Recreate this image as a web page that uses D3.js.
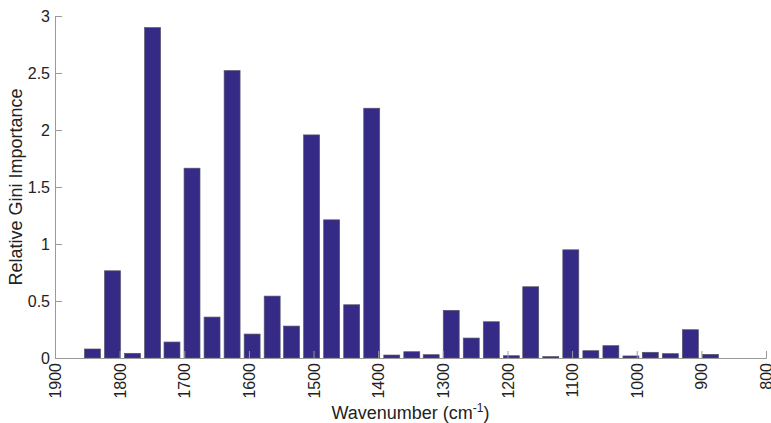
<!DOCTYPE html>
<html>
<head>
<meta charset="utf-8">
<script src="https://cdn.jsdelivr.net/npm/d3@7"></script>
<style>
  body { margin: 0; background: #fff; }
  text { font-family: "Liberation Sans", Arial, Helvetica, sans-serif; fill: #222; }
</style>
</head>
<body>
<svg width="771" height="423"></svg>
<script>
// bin centres (cm^-1) and relative Gini importance
var wavenumbers = [1842, 1811, 1780, 1749, 1719, 1688, 1657, 1626, 1595, 1564, 1534,
  1503, 1472, 1441, 1410, 1379, 1348, 1318, 1287, 1256, 1225, 1194, 1164, 1133,
  1102, 1071, 1040, 1009, 979, 948, 917, 886];
var importance = [0.079, 0.765, 0.041, 2.898, 0.140, 1.665, 0.359, 2.521, 0.210, 0.543, 0.280,
  1.957, 1.212, 0.467, 2.191, 0.026, 0.055, 0.029, 0.418, 0.175, 0.318, 0.020, 0.625, 0.012,
  0.949, 0.064, 0.108, 0.018, 0.050, 0.038, 0.248, 0.032];
var xTicks = [1900, 1800, 1700, 1600, 1500, 1400, 1300, 1200, 1100, 1000, 900, 800];
var yTicks = [0, 0.5, 1, 1.5, 2, 2.5, 3];

var svg = d3.select('svg');
var margin = { top: 16, right: 5, bottom: 65, left: 55 };
var width = 771 - margin.left - margin.right;
var height = 423 - margin.top - margin.bottom;

var g = svg.append('g')
  .attr('transform', 'translate(' + margin.left + ',' + margin.top + ')');

var x = d3.scaleLinear().domain([1900, 800]).range([0, width]);
var y = d3.scaleLinear().domain([0, 3]).range([height, 0]);

var step = Math.abs(wavenumbers[0] - wavenumbers[wavenumbers.length - 1]) / (wavenumbers.length - 1);
var barW = Math.abs(x(0) - x(step)) * 0.8;

var data = wavenumbers.map(function (w, i) { return { w: w, v: importance[i] }; });

// bars
g.selectAll('rect.bar')
  .data(data)
  .join('rect')
  .attr('class', 'bar')
  .attr('x', function (d) { return x(d.w) - barW / 2; })
  .attr('y', function (d) { return y(d.v); })
  .attr('width', barW)
  .attr('height', function (d) { return y(0) - y(d.v); })
  .attr('fill', '#352a86')
  .attr('stroke', '#55556a')
  .attr('stroke-width', 0.7);

// axes (ticks point inward, matlab style)
var xAxis = g.append('g')
  .attr('transform', 'translate(0,' + height + ')')
  .call(d3.axisBottom(x).tickValues(xTicks).tickSize(-7).tickFormat(d3.format('d')));

xAxis.selectAll('text')
  .attr('transform', 'rotate(-90)')
  .attr('x', -5)
  .attr('y', 0)
  .attr('dy', '0.35em')
  .style('text-anchor', 'end');

var yAxis = g.append('g')
  .call(d3.axisLeft(y).tickValues(yTicks).tickSize(-7).tickPadding(5).tickFormat(d3.format('~g')));

[xAxis, yAxis].forEach(function (a) {
  a.attr('font-size', null).attr('font-family', null);
  a.select('.domain').attr('stroke', '#9a9a9a').attr('stroke-width', 1);
  a.selectAll('.tick line').attr('stroke', '#9a9a9a');
  a.selectAll('text').style('fill', '#222').style('font-size', '16px');
});

// axis labels
var xl = svg.append('text')
  .attr('x', margin.left + width / 2)
  .attr('y', 419)
  .attr('text-anchor', 'middle')
  .style('font-size', '18px');
xl.append('tspan').text('Wavenumber (cm');
xl.append('tspan').attr('dy', -7).style('font-size', '12px').text('-1');
xl.append('tspan').attr('dy', 7).text(')');

svg.append('text')
  .attr('transform', 'translate(22,' + (margin.top + height / 2) + ') rotate(-90)')
  .attr('text-anchor', 'middle')
  .style('font-size', '18px')
  .text('Relative Gini Importance');
</script>
</body>
</html>
